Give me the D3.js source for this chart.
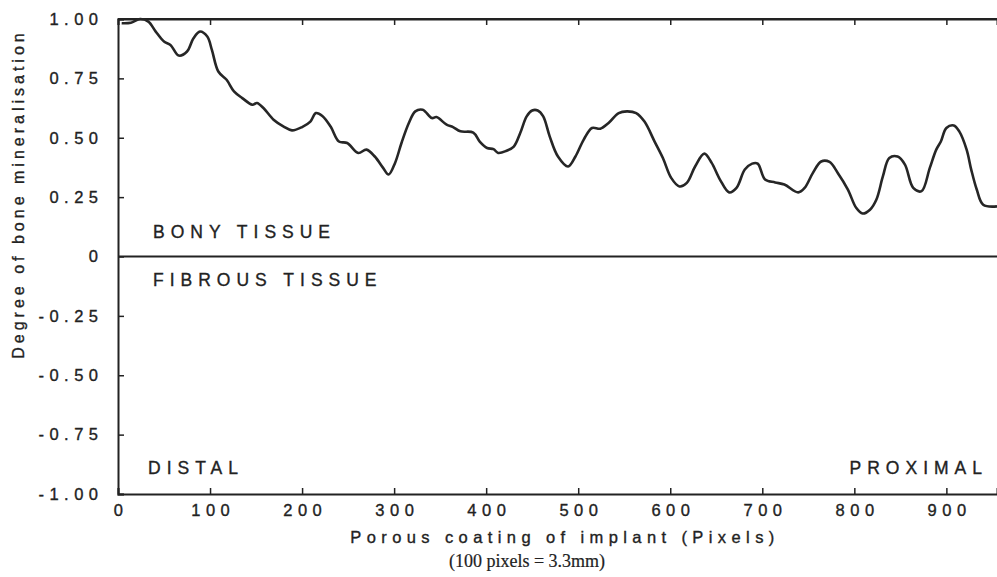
<!DOCTYPE html>
<html>
<head>
<meta charset="utf-8">
<script src="https://cdn.jsdelivr.net/npm/d3@7"></script>
<style>
  body { margin: 0; background: #fff; }
  svg text { font-family: "Liberation Sans", Arial, sans-serif; fill: #222; stroke: #222; stroke-width: 0.35px; }
</style>
</head>
<body>
<div id="chart"></div>
<script>
// position along porous coating (pixels)
var pixelPos = [4, 14, 24, 33, 41, 50, 57, 66, 75, 82, 89, 97, 102, 109, 118, 126, 135, 146, 151, 158,
  169, 180, 189, 200, 209, 215, 222, 231, 240, 249, 261, 270, 279, 288, 294, 301, 308, 316, 323, 331,
  341, 346, 357, 364, 372, 386, 393, 401, 408, 413, 422, 430, 437, 444, 450, 456, 462, 469, 478, 489,
  497, 506, 515, 524, 533, 544, 553, 563, 572, 583, 592, 601, 610, 618, 627, 637, 645, 654, 664, 672,
  681, 689, 695, 703, 714, 724, 739, 746, 755, 764, 773, 782, 793, 802, 809, 817, 824, 831, 838, 847,
  855, 864, 873, 882, 889, 894, 900, 908, 914, 922, 927, 933, 940, 955];
// degree of bone mineralisation
var mineralisation = [0.982, 0.984, 1.0, 0.989, 0.947, 0.905, 0.891, 0.846, 0.863, 0.919, 0.947, 0.926, 0.87, 0.779, 0.744, 0.695, 0.667, 0.639, 0.646, 0.625,
  0.576, 0.547, 0.531, 0.545, 0.568, 0.604, 0.592, 0.547, 0.484, 0.478, 0.436, 0.45, 0.421, 0.373, 0.345, 0.394, 0.478, 0.562, 0.611, 0.618,
  0.583, 0.587, 0.555, 0.545, 0.527, 0.522, 0.484, 0.457, 0.452, 0.436, 0.445, 0.463, 0.52, 0.59, 0.615, 0.615, 0.59, 0.506, 0.421, 0.379,
  0.421, 0.492, 0.541, 0.538, 0.562, 0.604, 0.611, 0.604, 0.568, 0.484, 0.415, 0.331, 0.295, 0.31, 0.379, 0.433, 0.394, 0.324, 0.27, 0.289,
  0.366, 0.391, 0.391, 0.324, 0.312, 0.303, 0.27, 0.289, 0.352, 0.4, 0.398, 0.352, 0.282, 0.205, 0.181, 0.197, 0.24, 0.337, 0.415, 0.421,
  0.387, 0.289, 0.275, 0.373, 0.45, 0.484, 0.541, 0.552, 0.527, 0.45, 0.366, 0.282, 0.218, 0.211];

var xTicks = [0, 100, 200, 300, 400, 500, 600, 700, 800, 900];
var yTicks = [1, 0.75, 0.5, 0.25, 0, -0.25, -0.5, -0.75, -1];

var annotations = [
  { text: "BONY TISSUE", x: 153, y: 238, anchor: "start" },
  { text: "FIBROUS TISSUE", x: 153, y: 286, anchor: "start" },
  { text: "DISTAL", x: 148, y: 474, anchor: "start" },
  { text: "PROXIMAL", x: 988, y: 474, anchor: "end" }
];

var W = 997, H = 577;
var margin = { top: 19, right: 0, bottom: 83, left: 118 };
var width = W - margin.left - margin.right,
    height = H - margin.top - margin.bottom;

var svg = d3.select("#chart").append("svg")
    .attr("width", W).attr("height", H);

var g = svg.append("g").attr("transform", "translate(" + margin.left + "," + margin.top + ")");

var x = d3.scaleLinear().domain([0, 955]).range([0, width]);
var y = d3.scaleLinear().domain([-1, 1]).range([height, 0]);

function fmt(d) {
  if (d === 0) return "0";
  return (d < 0 ? "-" : "") + Math.abs(d).toFixed(2);
}

// left axis
var yAx = g.append("g")
    .call(d3.axisLeft(y).tickValues(yTicks).tickSize(-6).tickPadding(20).tickFormat(fmt));

// bottom axis
var xAx = g.append("g")
    .attr("transform", "translate(0," + height + ")")
    .call(d3.axisBottom(x).tickValues(xTicks).tickSize(-6).tickPadding(10).tickFormat(d3.format("d")));

// top axis, ticks only
var topAx = g.append("g")
    .call(d3.axisTop(x).tickValues(xTicks).tickSize(-6).tickFormat(""));

[yAx, xAx, topAx].forEach(function (a) {
  a.select(".domain").attr("stroke", "#222").attr("stroke-width", 2);
  a.selectAll(".tick line").attr("stroke", "#222").attr("stroke-width", 1.5);
  a.selectAll("text")
    .attr("font-size", 16.5)
    .attr("fill", "#222")
    .style("letter-spacing", "5.5px");
});
xAx.selectAll("text").attr("dx", "2.7px");
yAx.selectAll("text").attr("dx", "5.5px");

// full-width lines: top frame + zero line
g.append("line").attr("x1", 0).attr("x2", width).attr("y1", 0).attr("y2", 0)
  .attr("stroke", "#222").attr("stroke-width", 2);
g.append("line").attr("x1", 0).attr("x2", width).attr("y1", y(0)).attr("y2", y(0))
  .attr("stroke", "#222").attr("stroke-width", 2);

// curve
var pts = pixelPos.map(function (p, i) { return [p, mineralisation[i]]; });
var line = d3.line()
    .x(function (d) { return x(d[0]); })
    .y(function (d) { return y(d[1]); })
    .curve(d3.curveCatmullRom.alpha(0.5));

g.append("path")
    .datum(pts)
    .attr("fill", "none")
    .attr("stroke", "#262626")
    .attr("stroke-width", 2.6)
    .attr("stroke-linejoin", "round")
    .attr("d", line);

// annotations
svg.selectAll(".ann")
  .data(annotations)
  .enter().append("text")
    .attr("class", "ann")
    .attr("x", function (d) { return d.x; })
    .attr("y", function (d) { return d.y; })
    .attr("text-anchor", function (d) { return d.anchor; })
    .attr("font-size", 17.5)
    .style("letter-spacing", "6px")
    .text(function (d) { return d.text; });

// axis titles
svg.append("text")
    .attr("x", 565).attr("y", 543)
    .attr("text-anchor", "middle")
    .attr("font-size", 16.5)
    .style("letter-spacing", "5.4px")
    .text("Porous coating of implant (Pixels)");

svg.append("text")
    .attr("x", 527).attr("y", 567)
    .attr("text-anchor", "middle")
    .attr("font-size", 18)
    .style("font-family", "'Liberation Serif', 'Times New Roman', serif")
    .style("stroke-width", "0.2px")
    .text("(100 pixels = 3.3mm)");

svg.append("text")
    .attr("transform", "translate(24,194) rotate(-90)")
    .attr("text-anchor", "middle")
    .attr("font-size", 16)
    .style("letter-spacing", "4px")
    .text("Degree of bone mineralisation");
</script>
</body>
</html>
